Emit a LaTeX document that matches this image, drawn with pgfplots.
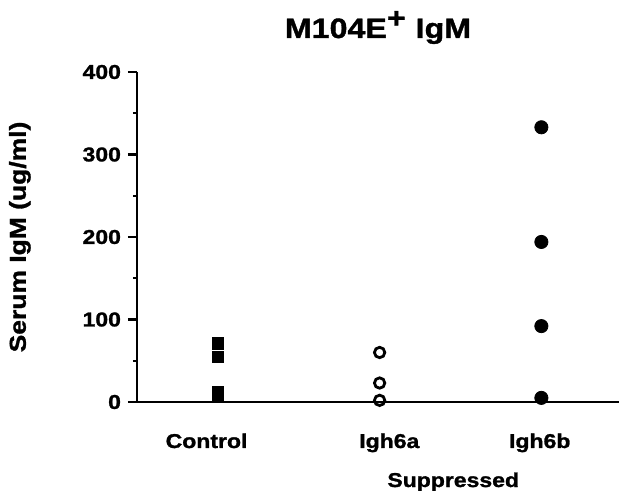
\documentclass[border=0pt]{standalone}
\usepackage{fontspec}
\setmainfont[FakeStretch=1.15,BoldFeatures={FakeStretch=1.15,FakeBold=1.3}]{Liberation Sans}
\usepackage{pgfplots}
\pgfplotsset{compat=1.18}
\begin{document}
\begin{tikzpicture}
\useasboundingbox (-68.5pt,-44.5pt) rectangle (241.5pt,201pt);
\begin{axis}[
  at={(0,0)}, anchor=south west,
  scale only axis,
  width=241pt, height=165pt,
  xmin=-0.5, xmax=2.48,
  ymin=0, ymax=400,
  axis x line*=bottom,
  axis y line*=left,
  axis line style={line width=1.4pt},
  clip=false,
  font=\bfseries,
  /pgf/number format/assume math mode=true,
  ytick={0,100,200,300,400},
  minor ytick={50,150,250,350},
  tick style={line width=1.1pt, black},
  major tick length=4.5pt,
  minor tick length=2pt,
  y tick label style={font=\bfseries\fontsize{10}{12}\selectfont},
  ytick align=outside,
  xtick={-0.07,1.06,1.99},
  xticklabels={Control,Igh6a,Igh6b},
  x tick label style={font=\bfseries\fontsize{10}{12}\selectfont, anchor=base, yshift=-23pt},
  xtick style={draw=none},
  ylabel={Serum IgM (ug/ml)},
  ylabel style={at={(axis description cs:-0.243,0.5)}, anchor=center, font=\bfseries\fontsize{11.5}{13}\selectfont},
  title={M104E$^{\textbf{+}}$ IgM},
  title style={at={(axis description cs:0.5,1)}, anchor=base, yshift=11pt, font=\bfseries\fontsize{14}{16}\selectfont},
]
\addplot[only marks, mark=square*, mark size=2.9pt, mark options={fill=black, draw=black, line width=0.3pt}] coordinates {
  (0,71) (0,55) (0,12) (0,9)
};
\addplot[only marks, mark=o, mark size=2.6pt, mark options={draw=black, line width=1.4pt}] coordinates {
  (1,60) (1,23) (1,2)
};
\addplot[only marks, mark=*, mark size=3.3pt, mark options={fill=black, draw=black}] coordinates {
  (2,333) (2,194) (2,92) (2,5)
};
\node[anchor=base, font=\bfseries\fontsize{10}{12}\selectfont] at (axis cs:1.455,0) [yshift=-42.5pt] {Suppressed};
\end{axis}
\end{tikzpicture}
\end{document}
